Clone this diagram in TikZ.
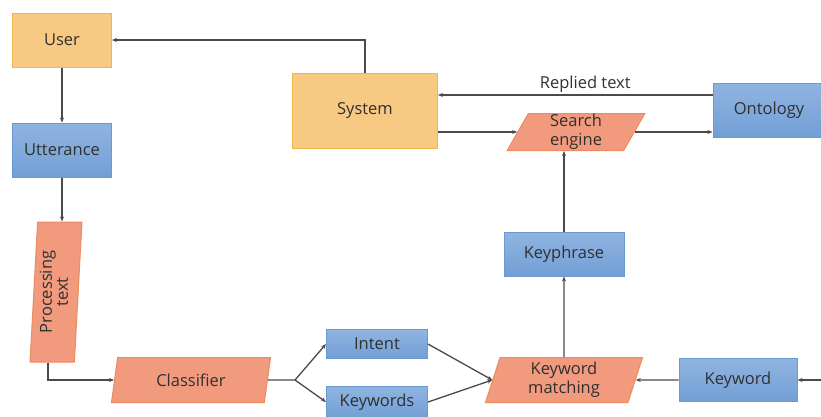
\documentclass[tikz,border=0pt]{standalone}
\usepackage{fontspec}
\setmainfont{Open Sans}
\usetikzlibrary{shapes.geometric,arrows.meta}
\definecolor{orfill}{HTML}{F8C982}
\definecolor{ordraw}{HTML}{F0B64A}
\definecolor{blfillt}{HTML}{8FB4E0}
\definecolor{blfillb}{HTML}{739FD6}
\definecolor{bldraw}{HTML}{6A9AD2}
\definecolor{safill}{HTML}{F29A7E}
\definecolor{sadraw}{HTML}{EC8A60}
\definecolor{lnc}{HTML}{4A4A4A}
\definecolor{txc}{HTML}{303030}
\tikzset{
  every node/.style={font=\fontsize{16.5}{19}\selectfont, text=txc, inner sep=0pt},
  obox/.style={rectangle, fill=orfill, draw=ordraw, line width=1pt},
  bbox/.style={rectangle, top color=blfillt, bottom color=blfillb, draw=bldraw, line width=1pt},
  pbox/.style={trapezium, trapezium stretches=true, fill=safill, draw=sadraw, line width=1pt, align=center},
  conn/.style={draw=lnc, line width=1.3pt, -{Stealth[length=5pt,width=4pt]}},
  plain/.style={draw=lnc, line width=1.3pt},
}
\begin{document}
\begin{tikzpicture}[x=1pt,y=-1pt]
\useasboundingbox (0,0) rectangle (821,416);
\node[obox, minimum width=99pt, minimum height=54pt] (user) at (62,40) {User};
\node[bbox, minimum width=99pt, minimum height=54pt] (utt) at (62,150) {Utterance};
\node[pbox, minimum width=52pt, minimum height=140pt, trapezium left angle=85, trapezium right angle=95] (proc) at (56,292) {\rotatebox{90}{\begin{tabular}{@{}c@{}}Processing\\[-3pt]text\end{tabular}}};
\node[pbox, minimum width=160pt, minimum height=45pt, trapezium left angle=77, trapezium right angle=103] (cls) at (191,380) {Classifier};
\node[bbox, minimum width=101pt, minimum height=29pt] (intent) at (377,344) {Intent};
\node[bbox, minimum width=101pt, minimum height=31pt] (kws) at (377,402) {Keywords};
\node[pbox, minimum width=158pt, minimum height=45pt, trapezium left angle=77, trapezium right angle=103] (km) at (564,380) {Keyword\\matching};
\node[bbox, minimum width=118pt, minimum height=43pt] (kw) at (738,380) {Keyword};
\node[bbox, minimum width=120pt, minimum height=44pt] (kp) at (564,254) {Keyphrase};
\node[pbox, minimum width=138pt, minimum height=37pt, trapezium left angle=72, trapezium right angle=108] (se) at (576,132) {Search\\engine};
\node[obox, minimum width=145pt, minimum height=75pt] (sys) at (365,111) {System};
\node[bbox, minimum width=112pt, minimum height=54pt] (ont) at (769,110) {Ontology};
\coordinate (rin) at (830,380);
\coordinate (split) at (295,380);
% connectors
\draw[conn] (sys.north) |- (user.east);
\draw[conn] (user) -- (utt);
\draw[conn] (utt.south) -- (utt.south |- proc.north);
\draw[conn] ([xshift=-8pt]proc.south) |- (cls.west);
\draw[plain] (cls.east) -- (split);
\draw[conn] (split) -- (intent.west);
\draw[conn] (split) -- (kws.west);
\draw[conn] (intent.east) -- (km.west);
\draw[conn] (kws.east) -- (km.west);
\draw[conn] (kw.west) -- (km.east);
\draw[conn] (rin) -- (kw.east);
\draw[conn] (km.north) -- (kp.south);
\draw[conn] (kp.north) -- (kp.north |- se.south);
\draw[conn] (sys.east |- se.west) -- (se.west);
\draw[conn] (se.east) -- (ont.west |- se.east);
\draw[conn] (ont.west |- 0,95) -- node[above=1.5pt, xshift=10pt] {Replied text} (sys.east |- 0,95);
\end{tikzpicture}
\end{document}
